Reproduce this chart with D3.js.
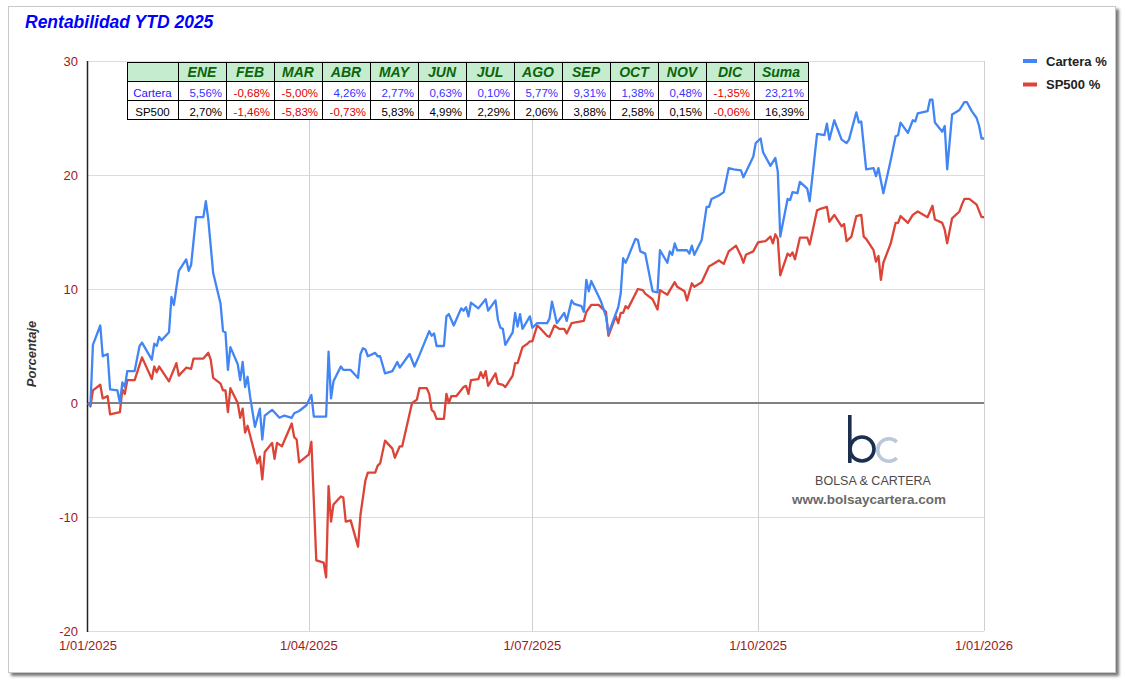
<!DOCTYPE html>
<html>
<head>
<meta charset="utf-8">
<script src="https://cdn.jsdelivr.net/npm/d3@7"></script>
<style>
  body { margin: 0; background: #fff; }
  svg { display: block; font-family: Arial, "Liberation Sans", sans-serif; }
</style>
</head>
<body>
<div id="vis"></div>
<script>
// monthly table
var meses = ["ENE", "FEB", "MAR", "ABR", "MAY", "JUN", "JUL", "AGO", "SEP", "OCT", "NOV", "DIC", "Suma"];
var carteraMes = [5.56, -0.68, -5.00, 4.26, 2.77, 0.63, 0.10, 5.77, 9.31, 1.38, 0.48, -1.35, 23.21];
var sp500Mes = [2.70, -1.46, -5.83, -0.73, 5.83, 4.99, 2.29, 2.06, 3.88, 2.58, 0.15, -0.06, 16.39];

var yTicks = [-20, -10, 0, 10, 20, 30];
var xTicks = ["2025-01-01", "2025-04-01", "2025-07-01", "2025-10-01", "2026-01-01"];

// [days since 1 Jan 2025, YTD %]
var carteraSerie = [
  [0, 0], [1, -0.2], [2, 5.1], [5, 6.8], [6, 4.1], [8, 4.3], [9, 1.2], [12, 1.1], [13, 0],
  [14, 1.8], [15, 1.4], [16, 2.8], [19, 2.8], [21, 5.0], [22, 5.3], [26, 3.8], [27, 5.2],
  [28, 5.0], [29, 5.8], [30, 5.5], [33, 6.2], [34, 9.3], [35, 8.6], [37, 11.6], [40, 12.6],
  [41, 11.6], [42, 12.1], [44, 16.3], [47, 16.3], [48, 17.7], [49, 16.1], [51, 11.4],
  [54, 8.7], [55, 6.3], [56, 6.2], [57, 2.9], [58, 4.9], [61, 3.4], [62, 2.0], [63, 3.6],
  [64, 1.4], [65, 2.3], [66, 0.6], [68, -2.1], [70, -0.5], [71, -3.2], [72, -1.1],
  [75, -0.6], [78, -1.3], [80, -1.1], [83, -1.3], [84, -0.9], [86, -0.7], [89, -0.2],
  [91, 0.7], [92, -1.2], [97, -1.2], [98, 4.5], [99, 0.4], [100, 1.9], [103, 3.2],
  [104, 2.9], [107, 2.9], [110, 2.2], [111, 4.3], [112, 4.8], [113, 4.7], [114, 4.1],
  [117, 4.4], [118, 4.1], [119, 4.1], [121, 2.6], [124, 2.8], [126, 3.6], [127, 3.1],
  [131, 4.3], [133, 3.2], [135, 4.2], [139, 6.3], [140, 5.9], [141, 6.1], [142, 5.0],
  [145, 5.0], [146, 7.6], [147, 7.8], [149, 6.8], [152, 8.3], [153, 8.1], [154, 8.4],
  [155, 7.6], [156, 8.8], [159, 8.3], [162, 9.1], [163, 8.1], [166, 9.0], [167, 7.3],
  [168, 6.6], [169, 6.5], [170, 5.1], [173, 6.2], [174, 7.9], [175, 6.7], [176, 7.8],
  [177, 6.5], [180, 7.6], [181, 6.6], [183, 7.0], [187, 7.0], [188, 7.4], [189, 8.9],
  [191, 7.0], [192, 7.3], [194, 7.9], [195, 7.2], [197, 9.0], [198, 8.7], [201, 8.5],
  [202, 8.0], [203, 10.8], [204, 9.8], [205, 10.7], [209, 8.9], [211, 7.6], [212, 6.1],
  [216, 8.4], [217, 9.6], [218, 12.7], [219, 12.3], [220, 12.8], [223, 14.4], [224, 14.3],
  [225, 13.3], [227, 13.1], [230, 9.8], [232, 9.7], [233, 13.4], [236, 12.3], [237, 13.3],
  [238, 13.0], [239, 14.0], [240, 13.4], [244, 13.4], [245, 13.1], [246, 13.8], [247, 13.0],
  [250, 14.3], [252, 17.2], [253, 17.2], [254, 17.9], [257, 18.2], [259, 18.5], [261, 20.6],
  [263, 20.5], [266, 20.4], [267, 19.8], [271, 21.6], [272, 22.8], [274, 23.2], [275, 22.0],
  [278, 20.8], [280, 21.5], [281, 20.3], [282, 14.6], [285, 17.9], [286, 17.8], [287, 18.5],
  [289, 18.4], [290, 19.4], [293, 18.8], [294, 17.7], [297, 23.6], [300, 23.5], [301, 24.5],
  [302, 23.1], [304, 24.8], [307, 23.1], [309, 22.8], [310, 23.1], [313, 25.5], [314, 24.6],
  [315, 24.7], [317, 20.5], [320, 20.6], [321, 19.9], [322, 20.6], [324, 18.4], [327, 21.3],
  [329, 23.4], [330, 23.5], [331, 24.6], [334, 23.7], [336, 24.8], [337, 24.7], [338, 25.4],
  [342, 25.6], [343, 26.6], [344, 26.6], [345, 24.6], [348, 23.8], [349, 24.3], [350, 20.5],
  [352, 25.3], [355, 25.7], [357, 26.4], [358, 26.4], [360, 25.6], [362, 25.0], [363, 24.3],
  [364, 23.2], [365, 23.2]
];

var sp500Serie = [
  [0, 0], [1, -0.3], [2, 1.1], [5, 1.6], [6, 0.4], [8, 0.6], [9, -1.0], [13, -0.8],
  [14, 1.2], [15, 0.8], [16, 2.0], [19, 2.0], [22, 4.0], [26, 2.1], [27, 3.2], [28, 2.7],
  [29, 3.2], [33, 1.9], [36, 3.5], [37, 2.4], [40, 3.1], [42, 3.0], [43, 3.9], [47, 3.9],
  [49, 4.4], [50, 3.8], [51, 2.2], [54, 1.7], [55, 1.1], [56, 1.1], [57, -0.8], [58, 1.3],
  [61, 0.0], [62, -1.3], [63, -0.5], [64, -2.6], [65, -2.0], [69, -5.3], [70, -4.7],
  [71, -6.7], [72, -4.3], [75, -3.5], [76, -4.9], [77, -3.5], [79, -3.8], [83, -1.8],
  [84, -3.0], [85, -3.2], [86, -5.2], [90, -4.5], [91, -3.4], [93, -13.8], [96, -14.0],
  [97, -15.3], [98, -7.3], [99, -10.4], [100, -8.9], [103, -8.2], [104, -8.3], [105, -10.4],
  [107, -10.3], [110, -12.6], [111, -9.8], [113, -6.8], [114, -6.1], [117, -6.1], [118, -5.5],
  [119, -5.3], [121, -3.3], [124, -4.0], [125, -4.8], [127, -3.8], [128, -3.8], [132, 0.0],
  [134, 0.3], [135, 1.3], [138, 1.3], [139, 0.8], [140, -0.6], [141, -0.8], [142, -1.4],
  [145, -1.4], [146, 0.8], [147, 0.0], [148, 0.6], [150, 0.6], [153, 1.4], [154, 1.5],
  [155, 0.8], [156, 2.0], [159, 2.1], [160, 2.7], [161, 2.2], [162, 2.8], [163, 1.5],
  [166, 2.6], [167, 1.7], [169, 1.6], [170, 1.4], [173, 2.4], [174, 3.5], [175, 3.5],
  [177, 4.9], [179, 5.2], [180, 5.4], [181, 5.4], [183, 6.8], [184, 6.6], [187, 5.9],
  [188, 5.8], [190, 6.8], [192, 6.5], [194, 6.5], [195, 6.1], [197, 7.0], [202, 7.2],
  [203, 8.0], [205, 8.6], [208, 8.6], [211, 8.0], [212, 5.9], [215, 7.6], [216, 7.0],
  [217, 7.9], [218, 7.9], [219, 8.5], [220, 8.3], [224, 10.0], [226, 9.9], [227, 9.6],
  [230, 9.1], [232, 8.2], [233, 9.9], [236, 9.5], [239, 10.6], [240, 10.2], [243, 9.8],
  [244, 9.0], [246, 10.5], [247, 10.2], [250, 10.6], [253, 12.0], [254, 12.1], [257, 12.5],
  [259, 12.2], [261, 13.3], [264, 13.8], [266, 12.9], [267, 12.3], [268, 13.0], [271, 13.3],
  [273, 14.1], [276, 14.2], [278, 14.6], [279, 14.0], [280, 14.8], [281, 14.4], [282, 11.2],
  [285, 13.1], [286, 12.9], [287, 13.2], [288, 12.6], [290, 14.5], [293, 14.5], [294, 13.9],
  [297, 16.9], [298, 17.0], [301, 17.2], [302, 15.9], [304, 16.5], [307, 15.5], [308, 15.7],
  [309, 14.2], [311, 14.6], [313, 16.4], [315, 16.5], [316, 14.6], [317, 14.4], [320, 13.4],
  [321, 12.4], [322, 12.9], [323, 10.8], [324, 12.3], [327, 14.0], [329, 15.8], [330, 15.8],
  [331, 16.4], [334, 15.8], [336, 16.5], [338, 16.8], [342, 16.3], [344, 17.3], [345, 16.1],
  [348, 15.8], [349, 15.2], [350, 14.0], [352, 16.2], [355, 16.8], [356, 17.4], [357, 17.9],
  [359, 17.9], [362, 17.4], [364, 16.3], [365, 16.3]
];

var width = 1125;
var height = 682;
var plot = { left: 88, right: 984, top: 61, bottom: 631 };
var azul = "#4285f4";
var rojo = "#db4437";
var granate = "#a01818";

var esLocale = d3.formatLocale({ decimal: ",", thousands: ".", grouping: [3], currency: ["", "€"], minus: "-" });
var fmtPct = function (v) { return esLocale.format(".2f")(v) + "%"; };
var parseDia = d3.timeParse("%Y-%m-%d");
var inicio = parseDia("2025-01-01");

var x = d3.scaleTime()
    .domain([parseDia(xTicks[0]), parseDia(xTicks[xTicks.length - 1])])
    .range([plot.left, plot.right]);

var y = d3.scaleLinear()
    .domain([-20, 30])
    .range([plot.bottom, plot.top]);

var svg = d3.select("#vis")
    .append("svg")
    .attr("width", width)
    .attr("height", height);

// card with shadow
var defs = svg.append("defs");
var filt = defs.append("filter").attr("id", "sombra").attr("x", "-2%").attr("y", "-2%").attr("width", "104%").attr("height", "104%");
filt.append("feDropShadow").attr("dx", 3).attr("dy", 3).attr("stdDeviation", 1.5).attr("flood-color", "#555").attr("flood-opacity", 0.8);

svg.append("rect")
    .attr("x", 8.5).attr("y", 6.5)
    .attr("width", 1107).attr("height", 666)
    .attr("fill", "#fff")
    .attr("stroke", "#c8c8c8")
    .attr("filter", "url(#sombra)");

// title
svg.append("text")
    .attr("x", 25).attr("y", 28)
    .attr("font-size", 17.5)
    .attr("font-weight", "bold")
    .attr("font-style", "italic")
    .attr("fill", "#0000ff")
    .text("Rentabilidad YTD 2025");

// horizontal grid
svg.append("g")
    .selectAll("line")
    .data(yTicks.filter(function (d) { return d !== 0; }))
    .enter().append("line")
    .attr("x1", plot.left).attr("x2", plot.right)
    .attr("y1", function (d) { return Math.round(y(d)) + 0.5; })
    .attr("y2", function (d) { return Math.round(y(d)) + 0.5; })
    .attr("stroke", "#dcdcdc");

// vertical grid
svg.append("g")
    .selectAll("line")
    .data(xTicks.slice(1))
    .enter().append("line")
    .attr("x1", function (d) { return Math.round(x(parseDia(d))) + 0.5; })
    .attr("x2", function (d) { return Math.round(x(parseDia(d))) + 0.5; })
    .attr("y1", plot.top).attr("y2", plot.bottom)
    .attr("stroke", "#d0d0d0");

// zero line
svg.append("line")
    .attr("x1", plot.left).attr("x2", plot.right)
    .attr("y1", y(0)).attr("y2", y(0))
    .attr("stroke", "#808080")
    .attr("stroke-width", 2);

// left axis line
svg.append("line")
    .attr("x1", plot.left - 0.5).attr("x2", plot.left - 0.5)
    .attr("y1", plot.top).attr("y2", plot.bottom + 1)
    .attr("stroke", "#222")
    .attr("stroke-width", 1.5);

// y labels
svg.append("g")
    .selectAll("text")
    .data(yTicks)
    .enter().append("text")
    .attr("x", 78)
    .attr("y", function (d) { return y(d) + 4.5; })
    .attr("text-anchor", "end")
    .attr("font-size", 13)
    .attr("fill", granate)
    .text(function (d) { return d; });

// x labels
var fmtFecha = d3.timeFormat("%-d/%m/%Y");
svg.append("g")
    .selectAll("text")
    .data(xTicks)
    .enter().append("text")
    .attr("x", function (d) { return x(parseDia(d)); })
    .attr("y", 649.5)
    .attr("text-anchor", "middle")
    .attr("font-size", 13)
    .attr("fill", granate)
    .text(function (d) { return fmtFecha(parseDia(d)); });

// y title
svg.append("text")
    .attr("transform", "translate(36,354) rotate(-90)")
    .attr("text-anchor", "middle")
    .attr("font-size", 13)
    .attr("font-weight", "bold")
    .attr("font-style", "italic")
    .attr("fill", "#333")
    .text("Porcentaje");

// watermark logo
var logo = svg.append("g");
logo.append("rect").attr("x", 848).attr("y", 415).attr("width", 3.6).attr("height", 48).attr("fill", "#1b2f4e");
logo.append("circle").attr("cx", 862).attr("cy", 449).attr("r", 12).attr("fill", "none").attr("stroke", "#1b2f4e").attr("stroke-width", 3.6);
var arcoC = d3.arc().innerRadius(9.5).outerRadius(13)
    .startAngle(Math.PI / 2 + 0.8).endAngle(Math.PI * 2.5 - 0.8);
logo.append("path").attr("transform", "translate(889,450)").attr("d", arcoC).attr("fill", "#b9c9da");
logo.append("text").attr("x", 873).attr("y", 485).attr("text-anchor", "middle")
    .attr("font-size", 12.5).attr("fill", "#4a4a4a").text("BOLSA & CARTERA");
logo.append("text").attr("x", 869).attr("y", 504).attr("text-anchor", "middle")
    .attr("font-size", 13.5).attr("font-weight", "bold").attr("fill", "#6a6a6a").text("www.bolsaycartera.com");

// series
var linea = d3.line()
    .x(function (d) { return x(d3.timeDay.offset(inicio, d[0])); })
    .y(function (d) { return y(d[1]); });

svg.append("path")
    .datum(sp500Serie)
    .attr("d", linea)
    .attr("fill", "none")
    .attr("stroke", rojo)
    .attr("stroke-width", 2.3)
    .attr("stroke-linejoin", "round");

svg.append("path")
    .datum(carteraSerie)
    .attr("d", linea)
    .attr("fill", "none")
    .attr("stroke", azul)
    .attr("stroke-width", 2.3)
    .attr("stroke-linejoin", "round");

// legend
var leyenda = svg.append("g")
    .selectAll("g")
    .data([{ t: "Cartera %", c: azul }, { t: "SP500 %", c: rojo }])
    .enter().append("g")
    .attr("transform", function (d, i) { return "translate(1023," + (61 + i * 23.5) + ")"; });
leyenda.append("line").attr("x1", 0).attr("x2", 14).attr("stroke", function (d) { return d.c; }).attr("stroke-width", 4);
leyenda.append("text").attr("x", 23).attr("y", 4.5).attr("font-size", 13).attr("font-weight", "bold")
    .attr("fill", "#222").text(function (d) { return d.t; });

// monthly table
var tabla = svg.append("g");
var filaY = [62, 81, 100, 119];
var colX = [127, 178];
for (var i = 0; i < 12; i++) colX.push(178 + 48 * (i + 1));
colX.push(808);

tabla.append("rect")
    .attr("x", colX[0]).attr("y", filaY[0])
    .attr("width", colX[colX.length - 1] - colX[0]).attr("height", filaY[3] - filaY[0])
    .attr("fill", "#fff");
tabla.append("rect")
    .attr("x", colX[0]).attr("y", filaY[0])
    .attr("width", colX[colX.length - 1] - colX[0]).attr("height", filaY[1] - filaY[0])
    .attr("fill", "#c6ecd0");

tabla.selectAll(".cab")
    .data(meses)
    .enter().append("text")
    .attr("x", function (d, i) { return (colX[i + 1] + colX[i + 2]) / 2; })
    .attr("y", 77)
    .attr("text-anchor", "middle")
    .attr("font-size", 14)
    .attr("font-weight", "bold")
    .attr("font-style", "italic")
    .attr("fill", "#0a640a")
    .text(function (d) { return d; });

var filas = [
  { nombre: "Cartera", vals: carteraMes, cNombre: "#1a1aff", cPos: "#3333ff", y: 96.5 },
  { nombre: "SP500", vals: sp500Mes, cNombre: "#000", cPos: "#000", y: 115.5 }
];
filas.forEach(function (f) {
  tabla.append("text")
      .attr("x", (colX[0] + colX[1]) / 2).attr("y", f.y)
      .attr("text-anchor", "middle").attr("font-size", 11.5)
      .attr("fill", f.cNombre).text(f.nombre);
  tabla.selectAll(null)
      .data(f.vals)
      .enter().append("text")
      .attr("x", function (d, i) { return colX[i + 2] - 4; })
      .attr("y", f.y)
      .attr("text-anchor", "end")
      .attr("font-size", 11.5)
      .attr("fill", function (d) { return d < 0 ? "#e00000" : f.cPos; })
      .text(function (d) { return fmtPct(d); });
});

// table borders
tabla.selectAll(".hl")
    .data(filaY)
    .enter().append("line")
    .attr("x1", colX[0]).attr("x2", colX[colX.length - 1])
    .attr("y1", function (d) { return d + 0.5; }).attr("y2", function (d) { return d + 0.5; })
    .attr("stroke", "#000");
tabla.selectAll(".vl")
    .data(colX)
    .enter().append("line")
    .attr("x1", function (d) { return d + 0.5; }).attr("x2", function (d) { return d + 0.5; })
    .attr("y1", filaY[0]).attr("y2", filaY[3] + 1)
    .attr("stroke", "#000");
</script>
</body>
</html>
